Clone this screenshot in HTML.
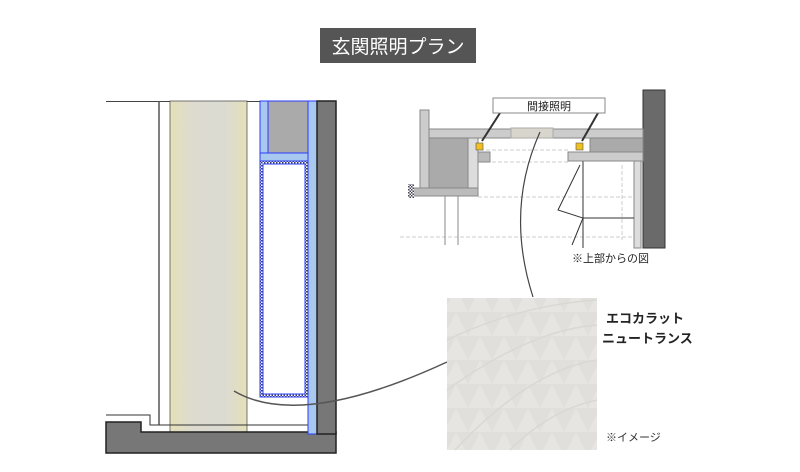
<!DOCTYPE html>
<html><head><meta charset="utf-8"><style>
html,body{margin:0;padding:0;background:#fff;}
body{width:800px;height:467px;overflow:hidden;font-family:"Liberation Sans","Noto Sans CJK JP",sans-serif;}
</style></head><body>
<svg width="800" height="467" viewBox="0 0 800 467" xmlns="http://www.w3.org/2000/svg" style="font-family:'Liberation Sans','Noto Sans CJK JP',sans-serif">
<defs>
<linearGradient id="col" x1="0" x2="1" y1="0" y2="0">
<stop offset="0" stop-color="#e4e0b8"/><stop offset="0.3" stop-color="#dddbd0"/><stop offset="0.7" stop-color="#dcdbd3"/><stop offset="1" stop-color="#e4e0b8"/>
</linearGradient>
<pattern id="hat" width="3" height="3" patternUnits="userSpaceOnUse"><rect width="3" height="3" fill="#fff"/><rect width="1.5" height="1.5" fill="#445"/><rect x="1.5" y="1.5" width="1.5" height="1.5" fill="#445"/></pattern>
<pattern id="tile" width="24" height="24" patternUnits="userSpaceOnUse"><rect width="24" height="24" fill="#e6e5e1"/><path d="M0 0L12 24L24 0Z" fill="#e0dfdb"/></pattern>
</defs>
<!-- title -->
<rect x="320" y="28" width="156" height="35" fill="#555"/>
<text x="398" y="53" font-size="19" fill="#fff" text-anchor="middle">玄関照明プラン</text>

<!-- left section -->
<line x1="106" y1="101.5" x2="320" y2="101.5" stroke="#444" stroke-width="1"/>
<line x1="159" y1="101" x2="159" y2="425" stroke="#555" stroke-width="1.5"/>
<rect x="170" y="101" width="77" height="332" fill="url(#col)" stroke="#555" stroke-width="0.8"/>
<polyline points="106,415 150,415 150,425 336,425" fill="none" stroke="#333" stroke-width="1"/>
<path d="M106 422 H141 V432 H336 V453 H106 Z" fill="#777" stroke="#222" stroke-width="1.5"/>
<rect x="260" y="101" width="8" height="52" fill="#a8c8f0" stroke="#2a3cff" stroke-width="1"/>
<rect x="268" y="101" width="40" height="52" fill="#aaa" stroke="#2a3cff" stroke-width="1"/>
<rect x="260" y="153" width="48" height="8" fill="#a8c8f0" stroke="#2a3cff" stroke-width="1"/>
<rect x="260" y="161" width="48" height="236" fill="url(#hat)" stroke="#2a3cff" stroke-width="1"/>
<rect x="263" y="164" width="42" height="230" fill="#fff" stroke="#2a3cff" stroke-width="1"/>
<rect x="308" y="101" width="9" height="333" fill="#a8c8f0" stroke="#2a3cff" stroke-width="1"/>
<rect x="317" y="101" width="19" height="333" fill="#777" stroke="#222" stroke-width="1.5"/>
<path d="M234 391 Q300 430 447 362" fill="none" stroke="#555" stroke-width="1.5"/>

<!-- top right plan -->
<rect x="643" y="90" width="22" height="158" fill="#6a6a6a" stroke="#333" stroke-width="1"/>
<g stroke="#ccc" stroke-width="1" stroke-dasharray="4,2" fill="none">
<line x1="480" y1="150" x2="568" y2="150"/><line x1="480" y1="162" x2="568" y2="162"/>
<line x1="400" y1="237" x2="640" y2="237"/><line x1="478" y1="197" x2="640" y2="197"/>
<line x1="622" y1="165" x2="622" y2="240"/>
</g>
<rect x="429" y="129" width="214" height="9" fill="#ccc" stroke="#888" stroke-width="1"/>
<rect x="420" y="110" width="9" height="78" fill="#ccc" stroke="#888" stroke-width="1"/>
<rect x="429" y="138" width="39" height="50" fill="#aaa" stroke="#888" stroke-width="1"/>
<rect x="468" y="138" width="10" height="50" fill="#ddd" stroke="#888" stroke-width="1"/>
<rect x="478" y="152" width="12" height="10" fill="#bbb" stroke="#888" stroke-width="1"/>
<rect x="413" y="188" width="65" height="8" fill="#bbb" stroke="#888" stroke-width="1"/>
<rect x="408" y="184" width="6" height="14" fill="url(#hat)"/>
<line x1="445" y1="196" x2="445" y2="245" stroke="#888"/><line x1="458" y1="196" x2="458" y2="245" stroke="#888"/>
<rect x="590" y="138" width="53" height="14" fill="#aaa" stroke="#888" stroke-width="1"/>
<rect x="568" y="152" width="75" height="9" fill="#ccc" stroke="#888" stroke-width="1"/>
<line x1="583" y1="161" x2="583" y2="248" stroke="#777" stroke-width="1.5"/>
<rect x="634" y="161" width="7" height="87" fill="#ddd" stroke="#888"/>
<line x1="583" y1="218" x2="634" y2="218" stroke="#333"/>
<polyline points="580,165 558,210 583,218 572,245" fill="none" stroke="#333" stroke-width="1"/>
<rect x="511" y="128" width="42" height="10" fill="#d8d6cc" stroke="#aaa"/>
<rect x="476" y="143" width="7" height="7" fill="#f0c020" stroke="#555" stroke-width="0.6"/>
<rect x="576" y="143" width="7" height="7" fill="#f0c020" stroke="#555" stroke-width="0.6"/>
<line x1="500" y1="113" x2="482" y2="141" stroke="#333" stroke-width="2"/>
<line x1="598" y1="113" x2="582" y2="141" stroke="#333" stroke-width="2"/>
<rect x="493" y="98" width="112" height="15" fill="#fff" stroke="#888"/>
<text x="549" y="110" font-size="11" fill="#222" text-anchor="middle">間接照明</text>
<text x="572" y="262" font-size="11" fill="#222">※上部からの図</text>
<path d="M540 132 Q505 210 533 297" fill="none" stroke="#444" stroke-width="1.2"/>

<!-- tile -->
<rect x="447" y="298" width="150" height="152" fill="url(#tile)"/>
<path d="M447 340 Q520 305 597 300 M447 390 Q530 330 597 325 M455 450 Q530 370 597 360 M510 450 Q550 410 597 400" stroke="#d9d8d3" stroke-width="1.5" fill="none"/>
<text x="606" y="323" font-size="13" font-weight="bold" fill="#222">エコカラット</text>
<text x="602" y="343" font-size="13" font-weight="bold" fill="#222">ニュートランス</text>
<text x="606" y="441" font-size="11" fill="#333">※イメージ</text>
</svg>
</body></html>
